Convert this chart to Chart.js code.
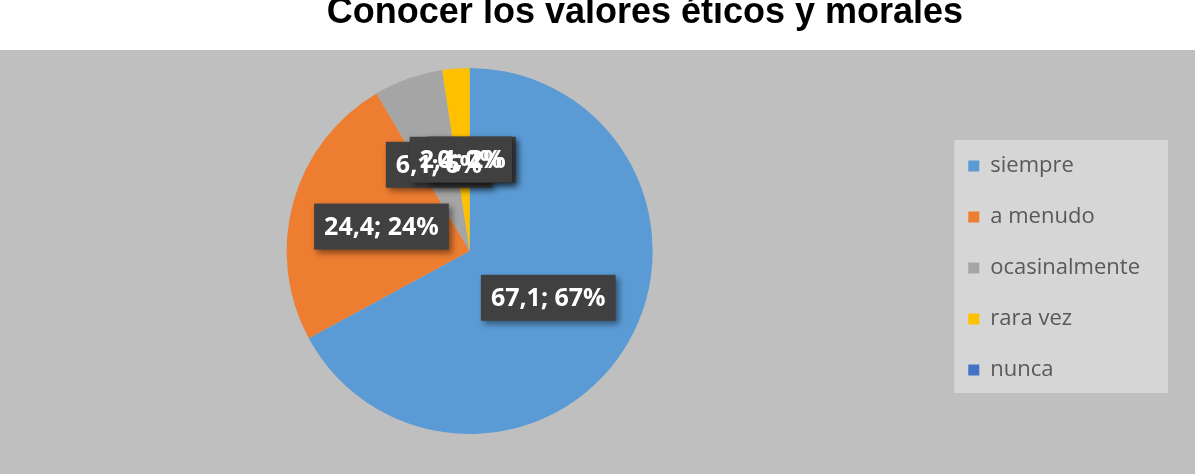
<!DOCTYPE html>
<html>
<head>
<meta charset="utf-8">
<script src="https://cdn.jsdelivr.net/npm/chart.js@4"></script>
<style>
  body { margin: 0; background: #fff; overflow: hidden; }
  #wrap { position: relative; width: 1195px; height: 474px; }
  #title {
    position: absolute; left: 0; top: -7px; width: 1290px;
    text-align: center; font: bold 36px "Liberation Sans", Arial, sans-serif;
    line-height: 36px; color: #000; white-space: nowrap;
  }
  #pieChart { position: absolute; left: 0; top: 0; }
</style>
</head>
<body>
<div id="wrap">
  <canvas id="pieChart" width="1195" height="474"></canvas>
  <div id="title">Conocer los valores éticos y morales</div>
</div>
<script>
var categories = ["siempre", "a menudo", "ocasinalmente", "rara vez", "nunca"];
var values = [67.1, 24.4, 6.1, 2.4, 0];
var colors = ["#5b9bd5", "#ed7d31", "#a5a5a5", "#ffc000", "#4472c4"];

// gray plot background + legend panel
var background = {
  id: 'background',
  beforeDraw: function (chart) {
    var ctx = chart.ctx;
    ctx.save();
    ctx.fillStyle = '#bfbfbf';
    ctx.fillRect(0, 50, chart.width, chart.height - 50);
    var boxes = chart.legend.legendHitBoxes;
    if (boxes && boxes.length) {
      var first = boxes[0], last = boxes[boxes.length - 1];
      var right = Math.max.apply(null, boxes.map(function (b) { return b.left + b.width; }));
      ctx.fillStyle = '#d6d6d6';
      ctx.fillRect(first.left - 14, first.top - 15, right - first.left + 42, last.top + last.height - first.top + 27);
    }
    ctx.restore();
  }
};

// dark data label boxes "value; percent" (boxes first, then all texts on top)
var dataLabels = {
  id: 'dataLabels',
  afterDatasetsDraw: function (chart) {
    var ctx = chart.ctx;
    var meta = chart.getDatasetMeta(0);
    var total = values.reduce(function (a, b) { return a + b; }, 0);
    ctx.save();
    ctx.font = 'bold 25px "Open Sans", sans-serif';
    ctx.textAlign = 'center';
    ctx.textBaseline = 'middle';
    var items = meta.data.map(function (arc, i) {
      var pos = arc.tooltipPosition();
      var txt = String(values[i]).replace('.', ',') + '; ' + Math.round(values[i] / total * 100) + '%';
      return { x: pos.x, y: pos.y, txt: txt, w: ctx.measureText(txt).width + 20 };
    });
    var h = 46;
    items.forEach(function (it) {
      ctx.shadowColor = 'rgba(0,0,0,0.45)';
      ctx.shadowBlur = 6;
      ctx.shadowOffsetX = 3;
      ctx.shadowOffsetY = 3;
      ctx.fillStyle = '#404040';
      ctx.fillRect(it.x - it.w / 2, it.y - h / 2, it.w, h);
    });
    ctx.shadowColor = 'transparent';
    ctx.fillStyle = '#ffffff';
    items.forEach(function (it) {
      ctx.fillText(it.txt, it.x, it.y + 1);
    });
    ctx.restore();
  }
};

new Chart(document.getElementById('pieChart').getContext('2d'), {
  type: 'pie',
  data: {
    labels: categories,
    datasets: [{
      data: values,
      backgroundColor: colors,
      borderWidth: 0,
      hoverOffset: 0
    }]
  },
  options: {
    responsive: false,
    animation: false,
    layout: {
      padding: { left: 0, top: 68, bottom: 40, right: 45 }
    },
    plugins: {
      legend: {
        position: 'right',
        title: { display: true, text: '', padding: 0, font: { size: 34, lineHeight: 1 } },
        labels: {
          boxWidth: 11,
          boxHeight: 11,
          padding: 29,
          color: '#595959',
          font: { family: '"Open Sans", sans-serif', size: 22 }
        }
      },
      tooltip: { enabled: false }
    }
  },
  plugins: [background, dataLabels]
});
</script>
</body>
</html>
